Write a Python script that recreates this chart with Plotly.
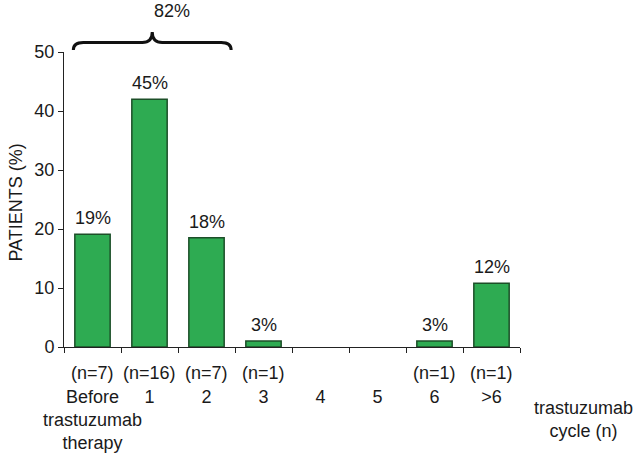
import plotly.graph_objects as go

categories = ["Before<br>trastuzumab<br>therapy", "1", "2", "3", "4", "5", "6", ">6"]
patients_pct = [19.1, 42.0, 18.5, 1.0, None, None, 1.0, 10.8]
bar_labels = ["19%", "45%", "18%", "3%", "", "", "3%", "12%"]
n_labels = ["(n=7)", "(n=16)", "(n=7)", "(n=1)", "", "", "(n=1)", "(n=1)"]
y_ticks = [0, 10, 20, 30, 40, 50]
brace_label = "82%"
brace_span = (0, 2)  # categories covered by the brace

FONT = "Liberation Sans, Arial, Helvetica, sans-serif"
TXT = "#1a1a1a"
FS = 18

W, H = 638, 453
ML, MR, MT, MB = 63.5, 117.5, 52, 106
BAR_W = 0.62

fig = go.Figure()
fig.add_trace(go.Bar(
    x=categories, y=patients_pct, width=BAR_W,
    marker=dict(color="#2eab52", line=dict(color="#1c4f28", width=1.5)),
    hoverinfo="x+y",
))

annotations = []
for c, v, t in zip(categories, patients_pct, bar_labels):
    if t:
        annotations.append(dict(x=c, y=v, xref="x", yref="y", text=t, showarrow=False,
                                yanchor="middle", yshift=16,
                                font=dict(family=FONT, size=FS, color=TXT)))
for c, t in zip(categories, n_labels):
    if t:
        annotations.append(dict(x=c, y=0, xref="x", yref="paper", text=t, showarrow=False,
                                yanchor="middle", yshift=-26,
                                font=dict(family=FONT, size=FS, color=TXT)))

n_cat = len(categories)
def xpaper(idx):
    return (idx + 0.5) / n_cat

plot_w = W - ML - MR
plot_h = H - MT - MB

def ypaper_from_top(px_above):
    return 1 + px_above / plot_h

bx0 = xpaper(brace_span[0] - BAR_W / 2) - 1.5 / plot_w
bx1 = xpaper(brace_span[1] + BAR_W / 2) + 7 / plot_w
bmid = (bx0 + bx1) / 2
dx = 10 / plot_w
y_end = ypaper_from_top(2)
y_bar = ypaper_from_top(9.5)
y_tip = ypaper_from_top(20)
path = (f"M {bx0},{y_end} Q {bx0},{y_bar} {bx0+dx},{y_bar} "
        f"L {bmid-dx},{y_bar} Q {bmid},{y_bar} {bmid},{y_tip} "
        f"Q {bmid},{y_bar} {bmid+dx},{y_bar} "
        f"L {bx1-dx},{y_bar} Q {bx1},{y_bar} {bx1},{y_end}")
fig.add_shape(type="path", path=path, xref="paper", yref="paper",
              line=dict(color="#111111", width=3))
annotations.append(dict(x=bmid, y=ypaper_from_top(41), xref="paper", yref="paper",
                        text=brace_label, showarrow=False, yanchor="middle",
                        font=dict(family=FONT, size=FS, color=TXT)))

annotations.append(dict(x=(584 - ML) / plot_w, y=-(419 - (H - MB)) / plot_h,
                        xref="paper", yref="paper",
                        text="trastuzumab<br>cycle (n)", showarrow=False,
                        xanchor="center", yanchor="middle",
                        font=dict(family=FONT, size=FS, color=TXT)))
annotations.append(dict(x=-(ML - 15) / plot_w, y=((H - MB) - 203) / plot_h,
                        xref="paper", yref="paper", text="PATIENTS (%)",
                        textangle=-90, showarrow=False,
                        xanchor="center", yanchor="middle",
                        font=dict(family=FONT, size=FS, color=TXT)))

fig.update_layout(
    width=W, height=H,
    margin=dict(l=ML, r=MR, t=MT, b=MB, pad=0, autoexpand=False),
    paper_bgcolor="white", plot_bgcolor="white",
    showlegend=False,
    annotations=annotations,
    font=dict(family=FONT, size=FS, color=TXT),
)
fig.update_xaxes(
    type="category", range=[-0.5, n_cat - 0.5],
    showline=True, linecolor="#222222", linewidth=1,
    ticks="outside", tickson="boundaries", ticklen=5, tickcolor="#222222",
    tickfont=dict(family=FONT, size=FS, color=TXT),
    tickangle=0, automargin=False,
    ticklabelstandoff=33,
    showgrid=False, zeroline=False,
)
fig.update_yaxes(
    range=[0, 50], tickvals=y_ticks,
    showline=True, linecolor="#222222", linewidth=1,
    ticks="outside", ticklen=5, tickcolor="#222222",
    tickfont=dict(family=FONT, size=FS, color=TXT),
    automargin=False,
    showgrid=False, zeroline=False,
)

fig.write_html(
    "out.html",
    config={"displayModeBar": False},
    post_script="document.body.style.margin='0';document.body.style.overflow='hidden';",
)
